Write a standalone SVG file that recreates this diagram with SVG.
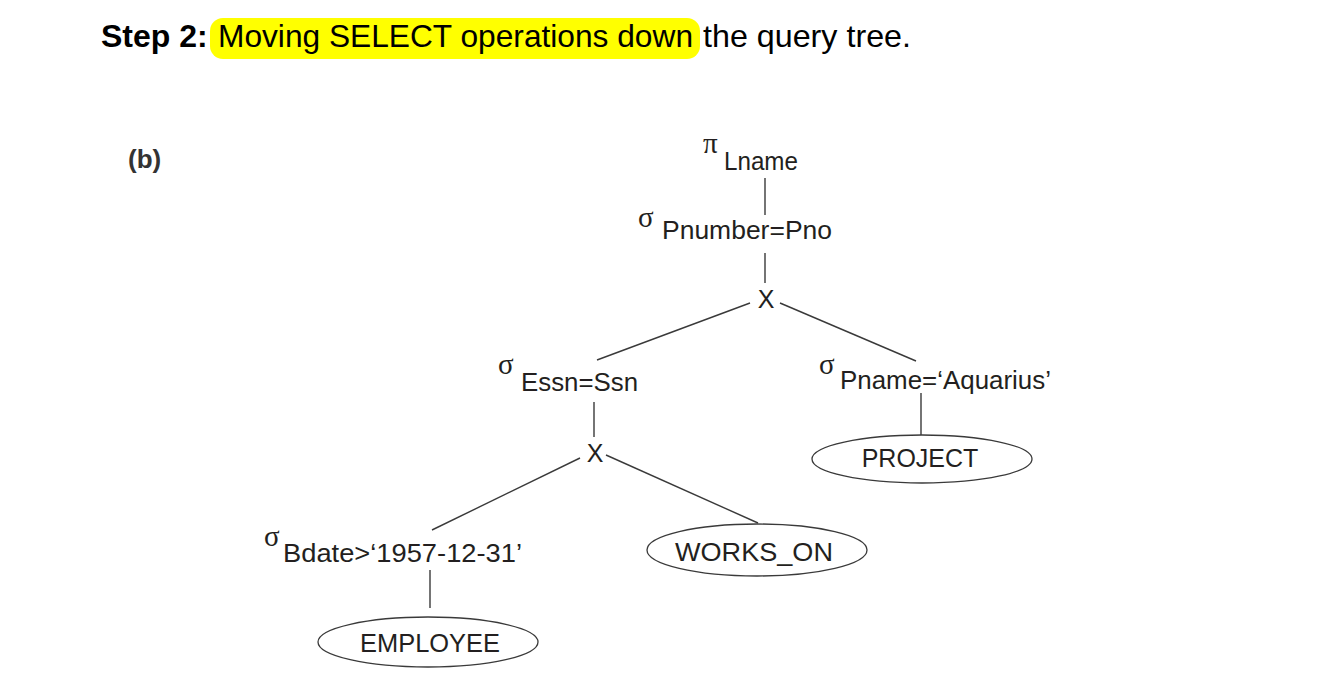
<svg xmlns="http://www.w3.org/2000/svg" width="1341" height="675" viewBox="0 0 1341 675">
<defs>
<style>
.t{font-family:"Liberation Sans",Arial,sans-serif;font-size:25px;fill:#231f20}
.g{font-family:"Liberation Serif","Times New Roman",serif;font-size:29px;fill:#231f20}
.e{fill:#fff;stroke:#3a3a3a;stroke-width:1.3}
.c line{stroke:#3a3a3a;stroke-width:1.4}
.h{font-family:"Liberation Sans",Arial,sans-serif;font-size:32px;fill:#000}
</style>
</defs>
<rect width="1341" height="675" fill="#fff"/>
<g id="title">
<rect x="210" y="18" width="490" height="41" rx="13" fill="#ffff00"/>
<text class="h" x="101" y="47" font-weight="bold">Step 2:</text>
<text class="h" x="218" y="47" textLength="475" lengthAdjust="spacingAndGlyphs">Moving SELECT operations down</text>
<text class="h" x="703" y="47" textLength="208" lengthAdjust="spacingAndGlyphs">the query tree.</text>
</g>
<g id="label-b"><text x="128" y="168" font-family="'Liberation Sans',Arial,sans-serif" font-size="26" font-weight="bold" fill="#333">(b)</text></g>
<g class="c" id="connectors">
<line x1="765" y1="178" x2="765" y2="215"/>
<line x1="765" y1="253" x2="765" y2="283"/>
<line x1="750" y1="303" x2="597" y2="360"/>
<line x1="780" y1="303" x2="916" y2="361"/>
<line x1="594" y1="402" x2="594" y2="437"/>
<line x1="580" y1="458" x2="432" y2="530"/>
<line x1="606" y1="455" x2="758" y2="523"/>
<line x1="430" y1="570" x2="430" y2="608"/>
<line x1="921" y1="393" x2="921" y2="436"/>
</g>
<g id="project-lname">
<text class="g" x="703" y="153">π</text>
<text class="t" x="724" y="170" textLength="74" lengthAdjust="spacingAndGlyphs">Lname</text>
</g>
<g id="select-pnumber">
<text class="g" x="638" y="227">σ</text>
<text class="t" x="662" y="239" textLength="170" lengthAdjust="spacingAndGlyphs">Pnumber=Pno</text>
</g>
<g id="cross-1"><text class="t" x="766" y="308" text-anchor="middle">X</text></g>
<g id="select-essn">
<text class="g" x="498" y="374">σ</text>
<text class="t" x="521" y="391" textLength="117" lengthAdjust="spacingAndGlyphs">Essn=Ssn</text>
</g>
<g id="select-pname">
<text class="g" x="819" y="374">σ</text>
<text class="t" x="840" y="389" textLength="211" lengthAdjust="spacingAndGlyphs">Pname=‘Aquarius’</text>
</g>
<g id="cross-2"><text class="t" x="595" y="462" text-anchor="middle">X</text></g>
<g id="select-bdate">
<text class="g" x="264" y="546">σ</text>
<text class="t" x="283" y="562" textLength="239" lengthAdjust="spacingAndGlyphs">Bdate&gt;‘1957-12-31’</text>
</g>
<g id="project">
<ellipse class="e" cx="922" cy="459" rx="110" ry="24"/>
<text class="t" x="920" y="467" text-anchor="middle">PROJECT</text>
</g>
<g id="works-on">
<ellipse class="e" cx="757" cy="550" rx="110" ry="26"/>
<text class="t" x="754" y="561" text-anchor="middle" textLength="158" lengthAdjust="spacingAndGlyphs">WORKS_ON</text>
</g>
<g id="employee">
<ellipse class="e" cx="428" cy="642" rx="110" ry="25"/>
<text class="t" x="430" y="652" text-anchor="middle" textLength="140" lengthAdjust="spacingAndGlyphs">EMPLOYEE</text>
</g>
</svg>
